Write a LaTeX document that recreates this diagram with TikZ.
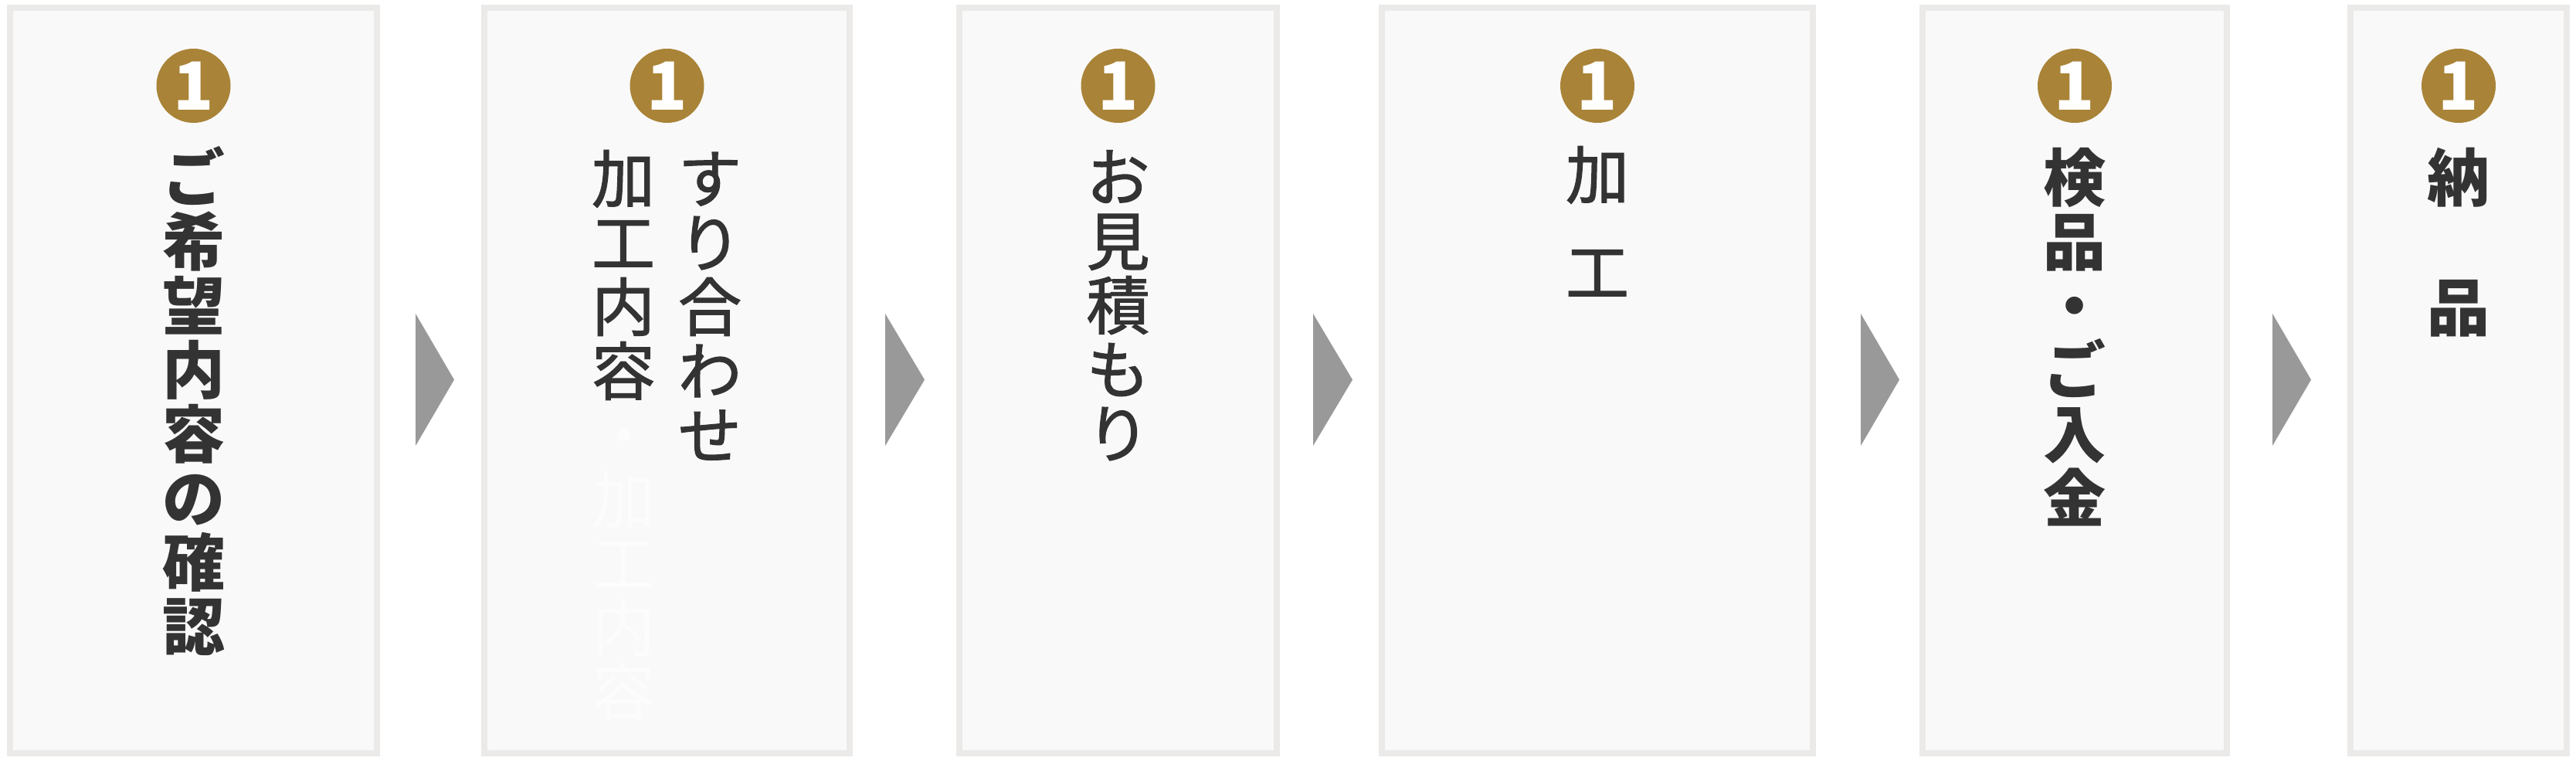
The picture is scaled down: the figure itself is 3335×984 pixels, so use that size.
\documentclass[tikz,border=0pt]{standalone}
\usepackage{fontspec}
\newfontfamily\jp{Noto Sans CJK JP}
\newfontfamily\jpmed{Noto Sans CJK JP}[FakeBold=1.5]
\definecolor{boxline}{HTML}{EBEAE9}
\definecolor{boxfill}{HTML}{F9F9F9}
\definecolor{gold}{HTML}{A98337}
\definecolor{arrowgray}{HTML}{999999}
\definecolor{inkc}{HTML}{333333}
\definecolor{ghost}{HTML}{FCFCFC}
\tikzset{
  stepbox/.style={draw=boxline, fill=boxfill, line width=8bp, inner sep=0},
  badge/.style={circle, fill=gold, minimum size=96bp, inner sep=0, text=white,
    font=\jp\bfseries\fontsize{86bp}{86bp}\selectfont},
  chr/.style={inner sep=0, text height=72bp, text depth=10bp, text=inkc},
  chreg/.style={chr, font=\jpmed\fontsize{82bp}{82bp}\selectfont},
  chbold/.style={chr, font=\jp\bfseries\fontsize{81bp}{81bp}\selectfont},
  chghost/.style={chr, font=\jp\fontsize{82bp}{82bp}\selectfont, text=ghost},
  flowarrow/.style={fill=arrowgray}
}
\begin{document}
\begin{tikzpicture}[x=1bp,y=-1bp]
\useasboundingbox (0,0) rectangle (3335,984);
\fill[white] (0,0) rectangle (3335,984);
% boxes (outer extents minus border)
\node[stepbox, minimum width=475bp, minimum height=965bp] (b1) at (250.5,492.5) {};
\node[stepbox, minimum width=473bp, minimum height=965bp] (b2) at (863.5,492.5) {};
\node[stepbox, minimum width=411bp, minimum height=965bp] (b3) at (1447.5,492.5) {};
\node[stepbox, minimum width=558bp, minimum height=965bp] (b4) at (2068,492.5) {};
\node[stepbox, minimum width=394bp, minimum height=965bp] (b5) at (2686,492.5) {};
\node[stepbox, minimum width=280bp, minimum height=965bp] (b6) at (3183,492.5) {};
% arrows between boxes
\fill[flowarrow] (538,406) -- (588,491.5) -- (538,577) -- cycle;
\fill[flowarrow] (1146,406) -- (1197,491.5) -- (1146,577) -- cycle;
\fill[flowarrow] (1700,406) -- (1751,491.5) -- (1700,577) -- cycle;
\fill[flowarrow] (2409,406) -- (2459,491.5) -- (2409,577) -- cycle;
\fill[flowarrow] (2942,406) -- (2992,491.5) -- (2942,577) -- cycle;
% badges
\node[badge] (n1) at (250.5,111) {1};
\node[badge] (n2) at (863.5,111) {1};
\node[badge] (n3) at (1447.5,111) {1};
\node[badge] (n4) at (2068,111) {1};
\node[badge] (n5) at (2686,111) {1};
\node[badge] (n6) at (3183,111) {1};
% texts
\foreach \c [count=\i] in {ご,希,望,内,容,の,確,認}
  \node[chbold] (t1-\i) at (250.5,{229+83*(\i-1)}) {\c};
\foreach \c [count=\i] in {す,り,合,わ,せ}
  \node[chreg] (t2a-\i) at (919,{231+83*(\i-1)}) {\c};
\foreach \c [count=\i] in {加,工,内,容}
  \node[chreg] (t2b-\i) at (807,{231+83*(\i-1)}) {\c};
\foreach \c [count=\i from 5] in {・,加,工,内,容}
  \node[chghost] (t2c-\i) at (807,{231+83*(\i-1)}) {\c};
\foreach \c [count=\i] in {お,見,積,も,り}
  \node[chreg] (t3-\i) at (1447.5,{229+83*(\i-1)}) {\c};
\node[chreg] (t4-1) at (2068,226) {加};
\node[chreg] (t4-2) at (2068,352) {工};
\foreach \c [count=\i] in {検,品,・,ご,入,金}
  \node[chbold] (t5-\i) at (2686,{229+83*(\i-1)}) {\c};
\node[chbold] (t6-1) at (3183,229) {納};
\node[chbold] (t6-2) at (3183,397) {品};
\end{tikzpicture}
\end{document}
